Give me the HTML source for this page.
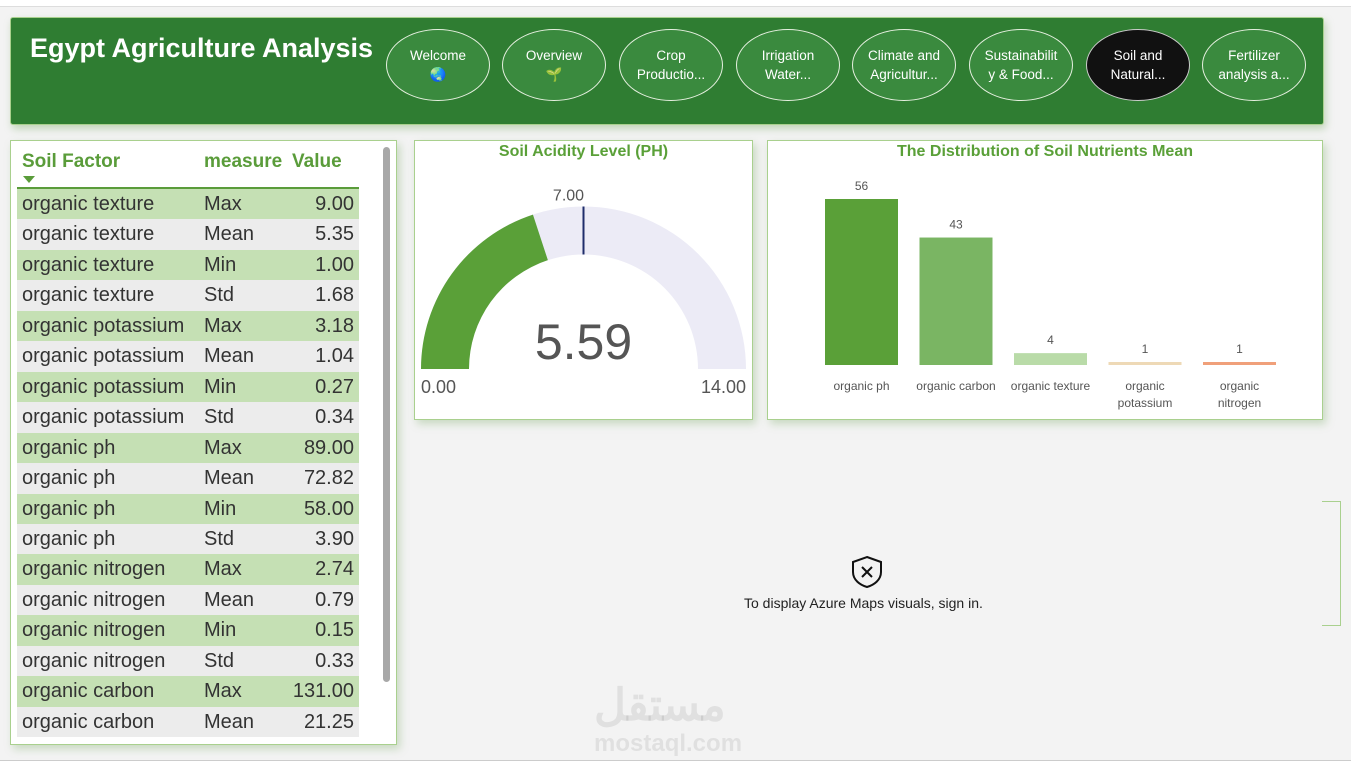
<!DOCTYPE html>
<html><head><meta charset="utf-8"><style>
body{margin:0;width:1351px;height:774px;background:#f3f3f3;font-family:"Liberation Sans",sans-serif;position:relative;overflow:hidden}
.a{position:absolute}
.nav{position:absolute;top:29px;width:104px;height:72px;border:1.5px solid #e6f0e0;border-radius:50%;background:#3a8a3e;color:#fff;font-size:13.5px;text-align:center;display:flex;flex-direction:column;justify-content:center;line-height:19px;box-sizing:border-box}
.panel{position:absolute;background:#fff;border:1.5px solid #a9d08e;box-shadow:3px 4px 8px rgba(120,170,100,.35);box-sizing:border-box}
.row{position:absolute;left:17px;width:342px;height:30.5px;font-size:20px;color:#333;line-height:31px}
.row span{position:absolute}
</style></head><body>
<div class="a" style="left:0;top:0;width:1351px;height:6px;background:#fff;border-bottom:1px solid #ddd"></div>
<div class="a" style="left:10px;top:17px;width:1312px;height:106px;background:#2f7d32;border:1px solid #a9d08e;border-radius:3px;box-shadow:2px 4px 8px rgba(120,170,100,.4)"></div>
<div class="a" style="left:30px;top:33px;color:#fff;font-size:27px;font-weight:bold">Egypt Agriculture Analysis</div>
<div class="nav" style="left:386px">Welcome<br>🌏</div>
<div class="nav" style="left:502px">Overview<br>🌱</div>
<div class="nav" style="left:619px">Crop<br>Productio...</div>
<div class="nav" style="left:736px">Irrigation<br>Water...</div>
<div class="nav" style="left:852px">Climate and<br>Agricultur...</div>
<div class="nav" style="left:969px">Sustainabilit<br>y &amp; Food...</div>
<div class="nav" style="left:1086px;background:#111;border-color:#ccc">Soil and<br>Natural...</div>
<div class="nav" style="left:1202px">Fertilizer<br>analysis a...</div>

<div class="panel" style="left:10px;top:140px;width:387px;height:605px"></div>
<div class="a" style="left:22px;top:151px;font-size:19px;font-weight:bold;color:#5a9c3a">Soil Factor</div>
<div class="a" style="left:23px;top:176px;width:0;height:0;border-left:6px solid transparent;border-right:6px solid transparent;border-top:7px solid #5a9c3a"></div>
<div class="a" style="left:204px;top:151px;font-size:19px;font-weight:bold;color:#5a9c3a">measure</div>
<div class="a" style="left:292px;top:151px;font-size:19px;font-weight:bold;color:#5a9c3a">Value</div>
<div class="a" style="left:17px;top:187px;width:342px;height:2px;background:#5a9c3a"></div>
<div id="rows"></div>
<div class="a" style="left:383px;top:147px;width:7px;height:535px;background:#a8a8a8;border-radius:4px"></div>

<div class="panel" style="left:414px;top:140px;width:339px;height:280px"></div>
<div class="a" style="left:414px;width:339px;top:143px;text-align:center;font-size:16px;font-weight:bold;color:#5aa038">Soil Acidity Level (PH)</div>
<svg class="a" style="left:0;top:0" width="1351" height="774" id="gsvg"></svg>

<div class="panel" style="left:767px;top:140px;width:556px;height:280px"></div>
<div class="a" style="left:767px;width:556px;top:143px;text-align:center;font-size:16px;font-weight:bold;color:#5aa038">The Distribution of Soil Nutrients Mean</div>
<svg class="a" style="left:0;top:0" width="1351" height="774" id="bsvg"></svg>

<div class="a" style="left:850px;top:555px">
<svg width="34" height="34" viewBox="0 0 34 34"><path d="M17 2 L31 7 V17 C31 25 24 30 17 32 C10 30 3 25 3 17 V7 Z" fill="none" stroke="#111" stroke-width="2"/><path d="M12 12 L22 22 M22 12 L12 22" stroke="#111" stroke-width="2"/></svg></div>
<div class="a" style="left:744px;top:595px;font-size:14px;color:#222">To display Azure Maps visuals, sign in.</div>
<div class="a" style="left:1322px;top:501px;width:19px;height:125px;border:1.5px solid #a9d08e;border-left:none;box-sizing:border-box"></div>
<div class="a" style="left:594px;top:680px;font-size:44px;font-weight:bold;color:rgba(0,0,0,.08)">مستقل</div>
<div class="a" style="left:594px;top:730px;font-size:24px;font-weight:bold;color:rgba(0,0,0,.08)">mostaql.com</div>
<div class="a" style="left:0;top:760px;width:1351px;height:14px;background:#fff;border-top:1px solid #ccc"></div>

<script>
const factors=["organic texture","organic texture","organic texture","organic texture","organic potassium","organic potassium","organic potassium","organic potassium","organic ph","organic ph","organic ph","organic ph","organic nitrogen","organic nitrogen","organic nitrogen","organic nitrogen","organic carbon","organic carbon"];
const measures=["Max","Mean","Min","Std","Max","Mean","Min","Std","Max","Mean","Min","Std","Max","Mean","Min","Std","Max","Mean"];
const values=[9.00,5.35,1.00,1.68,3.18,1.04,0.27,0.34,89.00,72.82,58.00,3.90,2.74,0.79,0.15,0.33,131.00,21.25];
const rows=document.getElementById('rows');
factors.forEach((f,i)=>{
 const r=document.createElement('div');r.className='row';
 
 
 r.style.top=(189+i*30.45)+'px';r.style.background=i%2?'#ececec':'#c5e0b4';
 r.innerHTML='<span style="left:5px">'+f+'</span><span style="left:187px">'+measures[i]+'</span><span style="right:5px">'+values[i].toFixed(2)+'</span>';
 rows.appendChild(r);
});
const NS='http://www.w3.org/2000/svg';
function mk(svg,tag,attrs,text){const e=document.createElementNS(NS,tag);for(const k in attrs)e.setAttribute(k,attrs[k]);if(text!==undefined)e.textContent=text;svg.appendChild(e);return e;}
// gauge
const gaugeMin=0,gaugeMax=14,gaugeValue=5.59,gaugeTarget=7;
const g=document.getElementById('gsvg');
const cx=583.5,cy=369,R=162.5,r=114.5;
function pt(v,rad){const a=Math.PI*(1-(v-gaugeMin)/(gaugeMax-gaugeMin));return [cx+rad*Math.cos(a),cy-rad*Math.sin(a)];}
function arc(v0,v1){const a=pt(v0,R),b=pt(v1,R),c=pt(v1,r),d=pt(v0,r);return `M${a} A${R},${R} 0 0 1 ${b} L${c} A${r},${r} 0 0 0 ${d} Z`;}
let e=mk(g,'path',{d:arc(gaugeMin,gaugeMax),fill:'#ecebf6'});


e=mk(g,'path',{d:arc(gaugeMin,gaugeValue),fill:'#5aa038'});


const t0=pt(gaugeTarget,R),t1=pt(gaugeTarget,r);
e=mk(g,'line',{x1:t0[0],y1:t0[1],x2:t1[0],y2:t1[1],stroke:'#1f2d6b','stroke-width':2});


e=mk(g,'text',{x:t0[0]-15,y:t0[1]-6,'font-size':16,fill:'#555','text-anchor':'middle'},gaugeTarget.toFixed(2));


e=mk(g,'text',{x:cx,y:359,'font-size':50,fill:'#555','text-anchor':'middle'},gaugeValue.toFixed(2));


e=mk(g,'text',{x:421,y:393,'font-size':18,fill:'#555'},gaugeMin.toFixed(2));


e=mk(g,'text',{x:746,y:393,'font-size':18,fill:'#555','text-anchor':'end'},gaugeMax.toFixed(2));


// bars
const nutrients=[["organic ph"],["organic carbon"],["organic texture"],["organic","potassium"],["organic","nitrogen"]];
const nutrientMeans=[56,43,4,1,1];
const barColors=['#5aa038','#7ab563','#b9dba8','#eed9b6','#f0a07a'];
const b=document.getElementById('bsvg');
const base=365,scale=166/56,x0=825,step=94.5,bw=73;
const yScale=v=>base-v*scale, xBand=i=>x0+i*step;
nutrients.forEach((lab,i)=>{
 const v=nutrientMeans[i];const h=Math.max(3,base-yScale(v));
 let el=mk(b,'rect',{x:xBand(i),y:base-h,width:bw,height:h,fill:barColors[i]});
 
 
 el=mk(b,'text',{x:xBand(i)+bw/2,y:base-h-9,'font-size':12,fill:'#555','text-anchor':'middle'},String(v));
 
 
 lab.forEach((l,j)=>{
  el=mk(b,'text',{x:xBand(i)+bw/2,y:390+j*17,'font-size':12,fill:'#555','text-anchor':'middle'},l);
  
  
 });
});
</script>
</body></html>
